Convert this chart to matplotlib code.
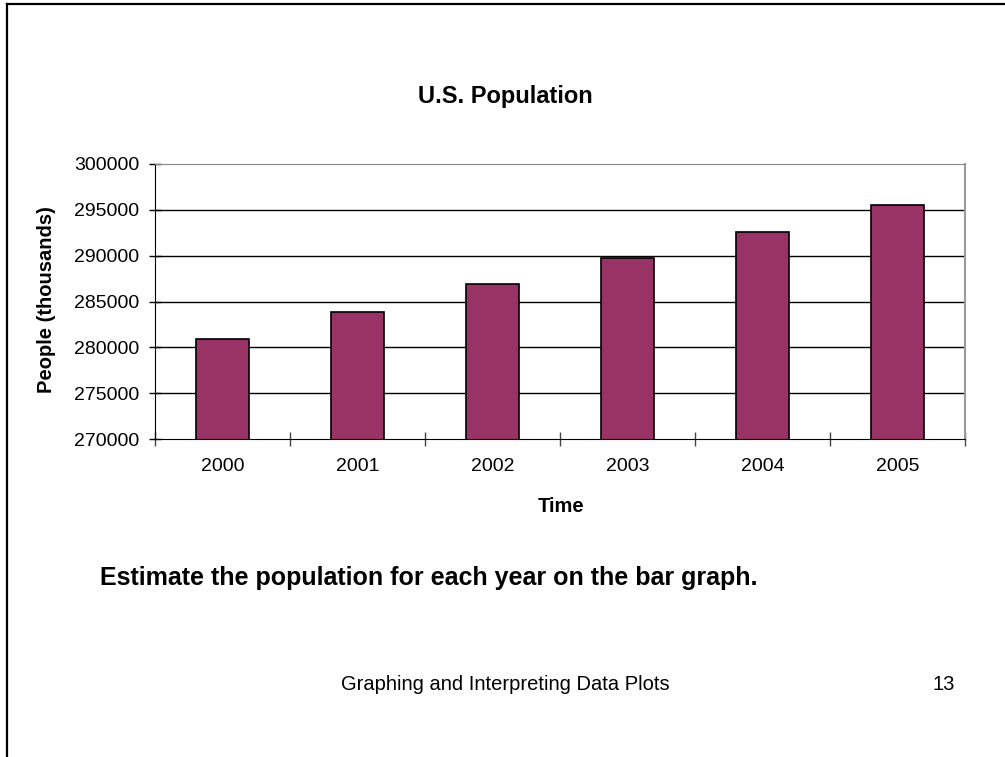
import matplotlib
matplotlib.use("Agg")
import matplotlib.pyplot as plt
from matplotlib.lines import Line2D
import numpy as np

plt.rcParams['font.family'] = ['Liberation Sans', 'DejaVu Sans']

years = ["2000", "2001", "2002", "2003", "2004", "2005"]
population = [280900, 283900, 286900, 289700, 292600, 295500]
y_ticks = [270000, 275000, 280000, 285000, 290000, 295000, 300000]

bar_color = "#993366"

fig = plt.figure(figsize=(10.05, 7.57), dpi=100)
W, H = 1005, 757

# Slide frame
fig.add_artist(Line2D([7 / W, 7 / W], [0, 1 - 4 / H], color="black", lw=1.6, transform=fig.transFigure))
fig.add_artist(Line2D([7 / W, 1], [1 - 4 / H, 1 - 4 / H], color="black", lw=1.6, transform=fig.transFigure))

ax = fig.add_axes([155 / W, 1 - 439 / H, (965 - 155) / W, (439 - 164) / H])
x = np.arange(len(years))
ax.bar(x, population, width=0.39, color=bar_color, edgecolor="black", linewidth=1.2, zorder=3)
ax.set_ylim(270000, 300000)
ax.set_xlim(-0.5, len(years) - 0.5)
ax.set_yticks(y_ticks)
ax.set_yticklabels([str(v) for v in y_ticks], fontsize=14)
ax.set_xticks(x)
ax.set_xticklabels(years, fontsize=14)
ax.tick_params(axis="x", length=0, pad=14)
ax.set_xticks(np.arange(len(years) + 1) - 0.5, minor=True)
ax.tick_params(axis="x", which="minor", direction="inout", length=10, width=1, color="#444444")
ax.tick_params(axis="y", direction="inout", length=9, width=1, pad=7, color="black")
for v in y_ticks[1:-1]:
    ax.axhline(v, color="black", lw=1, zorder=1)
ax.axhline(300000, color="#888888", lw=1.2, zorder=1)
ax.spines["left"].set_color("black")
ax.spines["bottom"].set_color("black")
ax.spines["right"].set_color("#999999")
ax.spines["right"].set_linewidth(1.5)
ax.spines["top"].set_color("#888888")
for s in ax.spines.values():
    s.set_zorder(4)

fig.text(505 / W, 1 - 97 / H, "U.S. Population", ha="center", va="center", fontsize=17, fontweight="bold")
fig.text(47 / W, 1 - 300 / H, "People (thousands)", ha="center", va="center", rotation=90,
         fontsize=14.5, fontweight="bold")
fig.text(561 / W, 1 - 506 / H, "Time", ha="center", va="center", fontsize=14.5, fontweight="bold")
fig.text(100 / W, 1 - 578 / H, "Estimate the population for each year on the bar graph.", ha="left",
         va="center", fontsize=18, fontweight="bold")
fig.text(505 / W, 1 - 685 / H, "Graphing and Interpreting Data Plots", ha="center", va="center", fontsize=14.5)
fig.text(944 / W, 1 - 685 / H, "13", ha="center", va="center", fontsize=14.5)

fig.savefig("out.png", dpi=100)
